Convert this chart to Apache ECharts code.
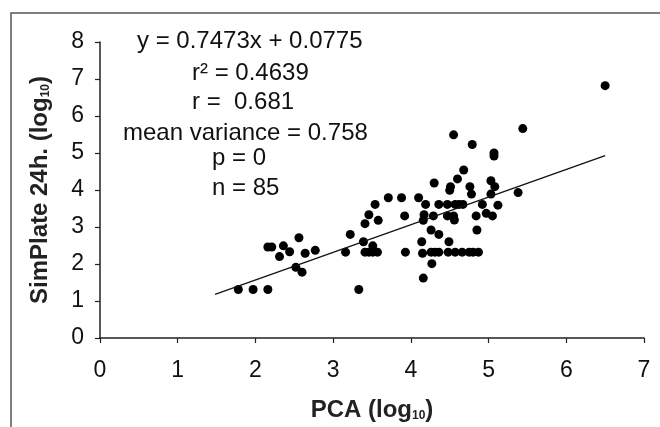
<!DOCTYPE html>
<html lang="en">
<head>
    <meta charset="UTF-8">
    <title>SimPlate vs PCA</title>
    <script src="https://cdn.jsdelivr.net/npm/echarts@6/dist/echarts.min.js"></script>
    <style>
        html, body { margin: 0; padding: 0; background: #fff; }
        #main { width: 660px; height: 427px; }
    </style>
</head>
<body>
<div id="main"></div>
<script>
    // PCA (log10) values
    var pcaX = [1.78, 1.97, 2.16, 2.16, 2.21, 2.31, 2.36, 2.44, 2.52, 2.56, 2.60, 2.64, 2.77,
        3.16, 3.22, 3.33, 3.39, 3.41, 3.41, 3.46, 3.51, 3.57, 3.46, 3.51, 3.54, 3.58, 3.71, 3.88,
        3.92, 3.93, 4.10, 4.14, 4.15, 4.16, 4.16, 4.17, 4.19, 4.26, 4.27, 4.26, 4.31, 4.36, 4.29,
        4.30, 4.36, 4.36, 4.47, 4.47, 4.49, 4.48, 4.50, 4.51, 4.55, 4.55, 4.56, 4.57, 4.57, 4.60,
        4.62, 4.67, 4.66, 4.68, 4.76, 4.78, 4.75, 4.79, 4.84, 4.85, 4.80, 4.87, 4.92, 4.97, 5.03,
        5.03, 5.05, 5.07, 5.07, 5.08, 5.12, 5.38, 5.44, 6.50];
    // SimPlate 24h (log10) values
    var simY = [1.31, 1.31, 1.31, 2.46, 2.46, 2.20, 2.49, 2.33, 1.91, 2.71, 1.78, 2.29, 2.37,
        2.32, 2.80, 1.31, 2.60, 3.09, 2.32, 2.32, 2.32, 2.32, 3.33, 2.49, 3.61, 3.18, 3.79, 3.79,
        3.30, 2.32, 3.79, 2.60, 2.29, 1.62, 3.18, 3.33, 3.61, 2.92, 2.01, 2.32, 2.32, 2.32, 3.30,
        4.19, 2.80, 3.61, 3.61, 3.30, 2.60, 2.32, 3.99, 4.09, 5.49, 3.30, 3.19, 3.61, 2.32, 4.30,
        3.61, 3.61, 2.32, 4.54, 4.09, 3.89, 2.32, 5.23, 3.30, 2.92, 2.32, 2.32, 3.61, 3.37, 4.25,
        3.89, 3.30, 5.00, 4.92, 4.09, 3.59, 3.93, 5.66, 6.82];
    // trend line end points
    var trendX = [1.48, 6.50];
    var trendY = [1.18, 4.93];
    var xTicks = [0, 1, 2, 3, 4, 5, 6, 7];
    var yTicks = [0, 1, 2, 3, 4, 5, 6, 7, 8];
    var statLines = ['y = 0.7473x + 0.0775', 'r\u00B2 = 0.4639', 'r =  0.681',
        'mean variance = 0.758', 'p = 0', 'n = 85'];

    var font = '"Liberation Sans", Arial, sans-serif';
    var myChart = echarts.init(document.getElementById('main'));

    var points = pcaX.map(function (x, i) { return [x, simY[i]]; });
    var trend = trendX.map(function (x, i) { return [x, trendY[i]]; });

    var statPos = [[137, 43], [192, 75], [192, 104], [123, 135], [212, 160], [212, 190]];
    var statText = statLines.map(function (t, i) {
        return {
            type: 'text',
            left: statPos[i][0],
            top: statPos[i][1] - 14,
            style: { text: t, fill: '#111', font: '24px ' + font }
        };
    });

    var axisCommon = {
        type: 'value',
        interval: 1,
        splitLine: { show: false },
        axisLine: { show: true, lineStyle: { color: '#222', width: 1.5 } },
        axisTick: { show: true, inside: false, length: 5, lineStyle: { color: '#222', width: 1.2 } },
        axisLabel: { color: '#111', fontSize: 23, fontFamily: font, margin: 16 }
    };

    option = {
        animation: false,
        backgroundColor: '#fff',
        grid: { left: 100, right: 16, top: 42, bottom: 89 },
        xAxis: echarts.util.merge({
            min: xTicks[0], max: xTicks[xTicks.length - 1],
            axisLabel: { margin: 21 },
            name: '{b|PCA (log}{s|10}{b|)}',
            nameLocation: 'middle',
            nameGap: 60,
            nameTextStyle: {
                rich: {
                    b: { fontSize: 24, fontWeight: 'bold', fontFamily: font, color: '#222' },
                    s: { fontSize: 12, fontWeight: 'bold', fontFamily: font, color: '#222', verticalAlign: 'bottom', padding: [10, 0, 0, 0] }
                }
            }
        }, echarts.util.clone(axisCommon)),
        yAxis: echarts.util.merge({
            min: yTicks[0], max: yTicks[yTicks.length - 1],
            name: '{b|SimPlate 24h. (log}{s|10}{b|)}',
            nameLocation: 'middle',
            nameGap: 48,
            nameTextStyle: {
                rich: {
                    b: { fontSize: 24, fontWeight: 'bold', fontFamily: font, color: '#222' },
                    s: { fontSize: 12, fontWeight: 'bold', fontFamily: font, color: '#222', verticalAlign: 'bottom', padding: [10, 0, 0, 0] }
                }
            }
        }, echarts.util.clone(axisCommon)),
        graphic: [{
            type: 'rect',
            shape: { x: 11, y: 13, width: 800, height: 600 },
            style: { fill: 'none', stroke: '#555', lineWidth: 1.5 },
            silent: true
        }].concat(statText),
        series: [{
            type: 'scatter',
            data: points,
            symbolSize: 9,
            itemStyle: { color: '#000', opacity: 1 }
        }, {
            type: 'line',
            data: trend,
            showSymbol: false,
            lineStyle: { color: '#111', width: 1.2 }
        }]
    };
    myChart.setOption(option);
</script>
</body>
</html>
